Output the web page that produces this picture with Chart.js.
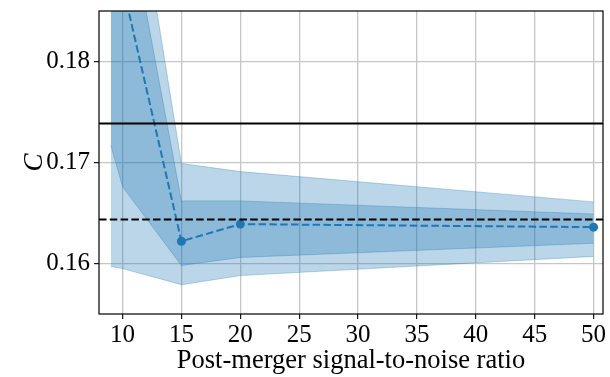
<!DOCTYPE html>
<html>
<head>
<meta charset="utf-8">
<script src="https://cdn.jsdelivr.net/npm/chart.js@4.4.1/dist/chart.umd.min.js"></script>
<style>
  body { margin: 0; background: #fff; }
  #wrap { width: 610px; height: 377px; }
</style>
</head>
<body>
<div id="wrap"><canvas id="snrChart" width="610" height="377"></canvas></div>
<script>
// Giá trị
const snr = [9, 10, 15, 20, 50];
const meanC = [0.192, 0.1876, 0.1622, 0.1639, 0.1636];
const innerUpper = [0.205, 0.1975, 0.1662, 0.1662, 0.1649];
const innerLower = [0.1717, 0.1676, 0.1598, 0.1606, 0.1620];
const outerUpper = [0.23, 0.206, 0.1699, 0.1691, 0.1661];
const outerLower = [0.1597, 0.1595, 0.1579, 0.1588, 0.1607];

const refSolid = 0.17387;
const refDashed = 0.16435;

const xRange = [8, 50.8];
const yRange = [0.155, 0.185];
const xTicks = [10, 15, 20, 25, 30, 35, 40, 45, 50];
const yTicks = [0.16, 0.17, 0.18];

const blue = '#1f77b4';
const band = 'rgba(31,119,180,0.3)';

function pts(ys) {
    return snr.map((x, i) => ({ x: x, y: ys[i] }));
}
function hline(y) {
    return xRange.map(x => ({ x: x, y: y }));
}

// khung viền quanh vùng vẽ
const framePlugin = {
    id: 'frame',
    afterDatasetsDraw(chart) {
        const a = chart.chartArea;
        const ctx = chart.ctx;
        ctx.save();
        ctx.strokeStyle = '#000';
        ctx.lineWidth = 1.2;
        ctx.strokeRect(a.left, a.top, a.right - a.left, a.bottom - a.top);
        ctx.restore();
    }
};

const serif = "'Liberation Serif', 'DejaVu Serif', serif";

new Chart(document.getElementById('snrChart').getContext('2d'), {
    type: 'line',
    data: {
        datasets: [
            { data: pts(outerUpper), borderColor: band, borderWidth: 1, backgroundColor: band, fill: 1, pointRadius: 0, order: 6 },
            { data: pts(outerLower), borderColor: band, borderWidth: 1, fill: false, pointRadius: 0, order: 6 },
            { data: pts(innerUpper), borderColor: band, borderWidth: 1, backgroundColor: band, fill: 3, pointRadius: 0, order: 5 },
            { data: pts(innerLower), borderColor: band, borderWidth: 1, fill: false, pointRadius: 0, order: 5 },
            { data: pts(meanC), borderColor: blue, borderWidth: 2, borderDash: [7.5, 3.3], fill: false,
              pointRadius: 4.5, pointBackgroundColor: blue, pointBorderColor: blue, pointBorderWidth: 0, order: 3 },
            { data: hline(refSolid), borderColor: '#000', borderWidth: 2, fill: false, pointRadius: 0, order: 2 },
            { data: hline(refDashed), borderColor: '#000', borderWidth: 2, borderDash: [7.5, 3.3], fill: false, pointRadius: 0, order: 2 }
        ]
    },
    options: {
        responsive: false,
        animation: false,
        layout: { padding: { top: 11, right: 7, left: 0, bottom: 0 } },
        plugins: { legend: { display: false }, tooltip: { enabled: false } },
        elements: { line: { tension: 0 } },
        scales: {
            x: {
                type: 'linear',
                min: xRange[0],
                max: xRange[1],
                afterBuildTicks: s => { s.ticks = xTicks.map(v => ({ value: v })); },
                afterFit: s => { s.height = 63; s.paddingLeft = 0; s.paddingRight = 0; },
                border: { display: false },
                grid: { color: '#c6c6c6', lineWidth: 1.3, tickColor: '#000', tickLength: 5, tickWidth: 1.1 },
                ticks: { color: '#000', padding: 1, maxRotation: 0, font: { family: serif, size: 25 } },
                title: { display: true, text: 'Post-merger signal-to-noise ratio', color: '#000',
                         padding: { top: 0, bottom: 0 }, font: { family: serif, size: 26.5 } }
            },
            y: {
                min: yRange[0],
                max: yRange[1],
                afterBuildTicks: s => { s.ticks = yTicks.map(v => ({ value: v })); },
                afterFit: s => { s.width = 99; s.paddingTop = 0; s.paddingBottom = 0; },
                border: { display: false },
                grid: { color: '#c6c6c6', lineWidth: 1.3, tickColor: '#000', tickLength: 5, tickWidth: 1.1 },
                ticks: { color: '#000', padding: 4, callback: v => v.toFixed(2), font: { family: serif, size: 25 } },
                title: { display: true, text: 'C', color: '#000', padding: { top: 19 },
                         font: { family: serif, size: 27, style: 'italic' } }
            }
        }
    },
    plugins: [framePlugin]
});
</script>
</body>
</html>
